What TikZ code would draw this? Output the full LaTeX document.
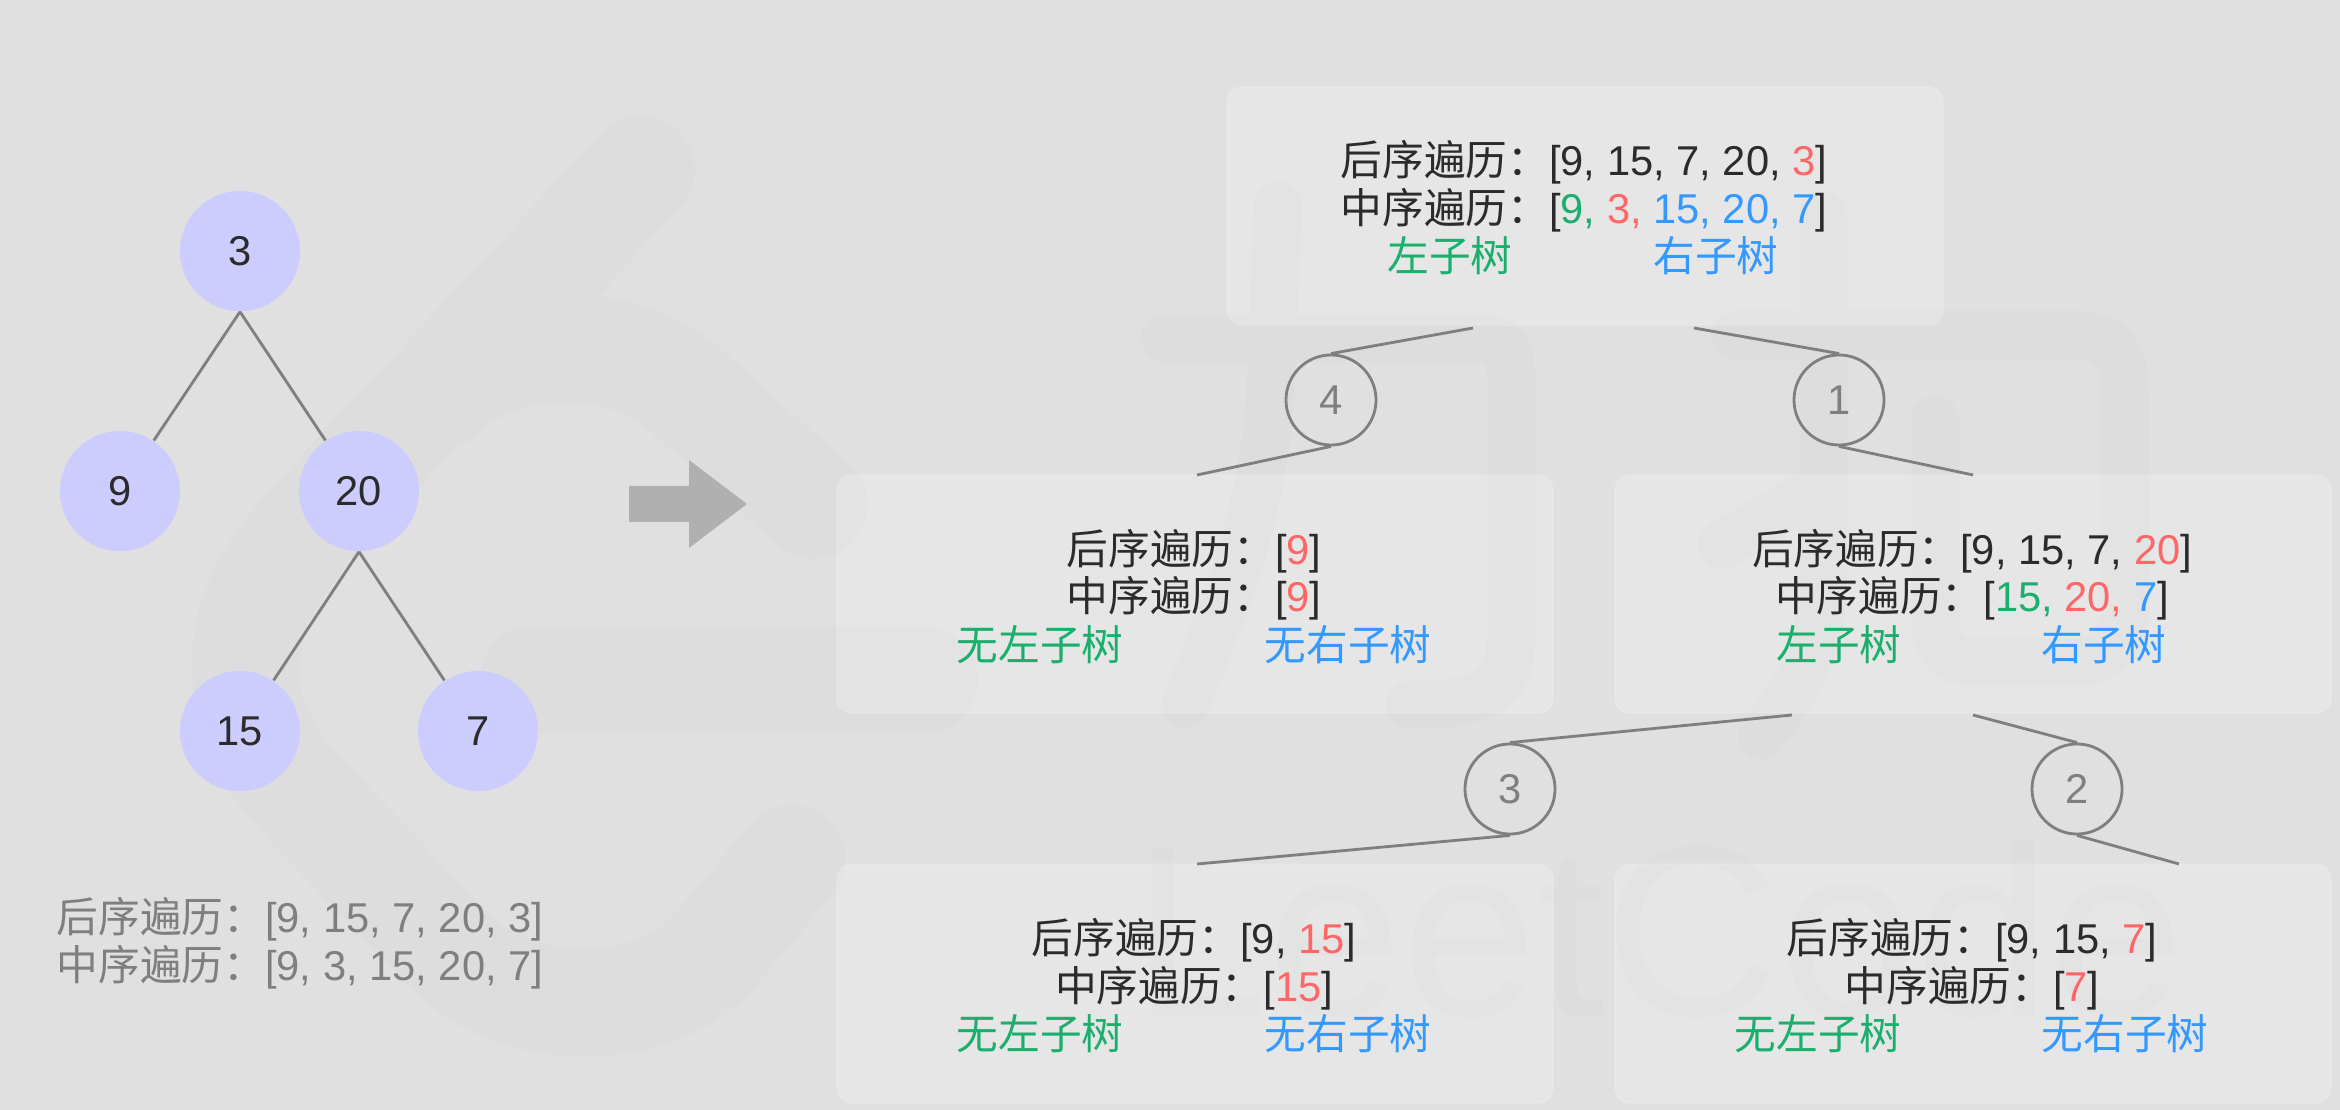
\documentclass[tikz,border=0pt]{standalone}
\usepackage{fontspec}
\setmainfont{Liberation Sans}
\newfontfamily\cjk{Noto Sans CJK SC}
\usepackage{tikz}
\definecolor{bgc}{HTML}{E0E0E0}
\definecolor{markc}{HTML}{DDDDDD}
\definecolor{nodec}{HTML}{CCCCFF}
\definecolor{linec}{HTML}{7F7F7F}
\definecolor{arrowc}{HTML}{B0B0B0}
\definecolor{textc}{HTML}{2B2B2B}
\definecolor{leftc}{HTML}{1BAF6E}
\definecolor{rightc}{HTML}{3399FF}
\definecolor{rootc}{HTML}{FF6666}
\newcommand{\post}{{\cjk 后序遍历：}}
\newcommand{\inord}{{\cjk 中序遍历：}}
\newcommand{\rt}[1]{\textcolor{rootc}{#1}}
\newcommand{\lf}[1]{\textcolor{leftc}{#1}}
\newcommand{\rg}[1]{\textcolor{rightc}{#1}}

\begin{document}
\begin{tikzpicture}[x=0.01cm, y=-0.01cm,
  every node/.style={font=\fontsize{11.85}{13.6}\selectfont, text=textc, inner sep=0pt},
  treenode/.style={circle, fill=nodec, minimum size=1.2cm},
  stepnode/.style={circle, draw=linec, line width=0.8pt, minimum size=0.9cm, text=linec},
  edge/.style={draw=linec, line width=0.8pt},
  markstroke/.style={draw=markc, line width=1.08cm, line cap=round, line join=round},
  markthin/.style={draw=markc, line width=0.48cm, line cap=round, line join=round},
  box/.style={fill=white, fill opacity=0.2, draw=white, draw opacity=0.12, line width=0.6pt, rounded corners=0.15cm},
  row/.style={anchor=base},
  leftlabel/.style={anchor=base, text=leftc, font=\fontsize{11.85}{13.6}\selectfont\cjk},
  rightlabel/.style={anchor=base, text=rightc, font=\fontsize{11.85}{13.6}\selectfont\cjk},
  caption/.style={anchor=base, text=linec}]
  \useasboundingbox (0,0) rectangle (2340,1110);
  \fill[bgc] (0,0) rectangle (2340,1110);

  % watermark
  \draw[markstroke] (641,170) -- (320,515) .. controls (265,575) and (246,615) .. (246,668)
    .. controls (246,725) and (270,765) .. (320,815) -- (450,950)
    .. controls (510,1015) and (650,1025) .. (715,950) -- (792,859);
  \draw[markstroke] (440,395) .. controls (490,345) and (600,325) .. (680,385) -- (813,505);
  \draw[markstroke] (534,680) -- (924,680);
  \draw[markthin] (1165,338) -- (1480,338) .. controls (1505,338) and (1511,355) .. (1511,375)
    -- (1511,640) .. controls (1511,690) and (1480,705) .. (1410,705);
  \draw[markthin] (1278,205) -- (1270,400) .. controls (1262,520) and (1220,620) .. (1185,705);
  \draw[markthin] (1735,335) -- (2080,335) .. controls (2110,335) and (2125,355) .. (2125,390)
    -- (2125,610) .. controls (2125,645) and (2105,662) .. (2075,662)
    -- (1975,662) .. controls (1945,662) and (1935,645) .. (1935,615) -- (1935,420);
  \draw[markthin] (1823,215) -- (1823,580) .. controls (1823,650) and (1790,700) .. (1762,735);
  \draw[markthin] (1722,545) -- (1815,490);
  \node[anchor=base west, text=markc, font=\fontsize{69}{69}\selectfont] (logotext) at (1132,1015) {LeetCode};

  % result boxes
  \draw[box] (1227,87) rectangle (1943,325);
  \draw[box] (837,475) rectangle (1553,713);
  \draw[box] (1615,475) rectangle (2331,713);
  \draw[box] (837,864) rectangle (1553,1103);
  \draw[box] (1615,864) rectangle (2331,1103);

  % tree
  \node[treenode] (n3) at (240,251) {3};
  \node[treenode] (n9) at (120,491) {9};
  \node[treenode] (n20) at (359,491) {20};
  \node[treenode] (n15) at (240,731) {15};
  \node[treenode] (n7) at (478,731) {7};
  \draw[edge] (n3.south) -- (n9);
  \draw[edge] (n3.south) -- (n20);
  \draw[edge] (n20.south) -- (n15);
  \draw[edge] (n20.south) -- (n7);
  \node[caption] (capa) at (300,932) {\post[9, 15, 7, 20, 3]};
  \node[caption] (capb) at (300,980) {\inord[9, 3, 15, 20, 7]};

  \fill[arrowc] (629,486) -- (689,486) -- (689,460) -- (747,504) -- (689,548) -- (689,522) -- (629,522) -- cycle;

  % step circles
  \node[stepnode] (s4) at (1331,400) {4};
  \node[stepnode] (s1) at (1839,400) {1};
  \node[stepnode] (s3) at (1510,789) {3};
  \node[stepnode] (s2) at (2077,789) {2};
  \coordinate (a4) at (1473,328);
  \coordinate (b4) at (1197,475);
  \coordinate (a1) at (1694,328);
  \coordinate (b1) at (1973,475);
  \coordinate (a3) at (1792,715);
  \coordinate (b3) at (1197,864);
  \coordinate (a2) at (1973,715);
  \coordinate (b2) at (2179,864);
  \draw[edge] (a4) -- (s4.north);
  \draw[edge] (s4.south) -- (b4);
  \draw[edge] (a1) -- (s1.north);
  \draw[edge] (s1.south) -- (b1);
  \draw[edge] (a3) -- (s3.north);
  \draw[edge] (s3.south) -- (b3);
  \draw[edge] (a2) -- (s2.north);
  \draw[edge] (s2.south) -- (b2);

  % top box
  \node[row] (ta) at (1584,176) {\post[9, 15, 7, 20, \rt{3}]};
  \node[row] (tb) at (1584,224) {\inord[\lf{9,} \rt{3,} \rg{15, 20, 7}]};
  \node[leftlabel] (tl) at (1450,272) {左子树};
  \node[rightlabel] (tr) at (1716,272) {右子树};

  % middle left box
  \node[row] (ma) at (1194,564) {\post[\rt{9}]};
  \node[row] (mb) at (1194,612) {\inord[\rt{9}]};
  \node[leftlabel] (ml) at (1040,660) {无左子树};
  \node[rightlabel] (mr) at (1348,660) {无右子树};

  % middle right box
  \node[row] (na) at (1972,564) {\post[9, 15, 7, \rt{20}]};
  \node[row] (nb) at (1972,612) {\inord[\lf{15,} \rt{20,} \rg{7}]};
  \node[leftlabel] (nl) at (1839,660) {左子树};
  \node[rightlabel] (nr) at (2104,660) {右子树};

  % bottom left box
  \node[row] (pa) at (1194,953) {\post[9, \rt{15}]};
  \node[row] (pb) at (1194,1001) {\inord[\rt{15}]};
  \node[leftlabel] (pl) at (1040,1049) {无左子树};
  \node[rightlabel] (pr) at (1348,1049) {无右子树};

  % bottom right box
  \node[row] (qa) at (1972,953) {\post[9, 15, \rt{7}]};
  \node[row] (qb) at (1972,1001) {\inord[\rt{7}]};
  \node[leftlabel] (ql) at (1818,1049) {无左子树};
  \node[rightlabel] (qr) at (2125,1049) {无右子树};
\end{tikzpicture}
\end{document}
